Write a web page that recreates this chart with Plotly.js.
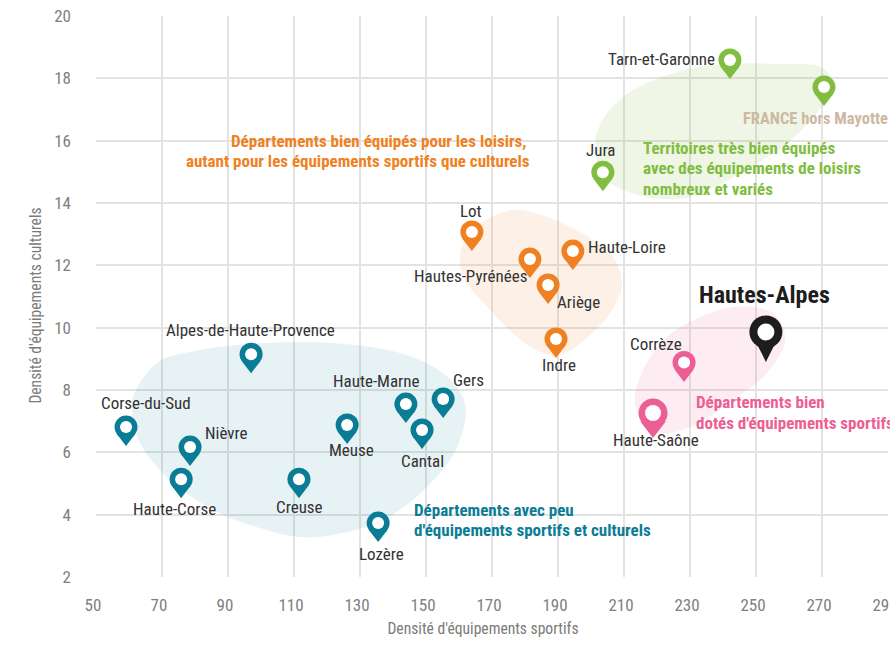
<!DOCTYPE html>
<html><head><meta charset="utf-8">
<script src="https://cdn.plot.ly/plotly-3.0.1.min.js"></script>
<style>
html,body{margin:0;padding:0;background:#fff}
#chart{width:890px;height:652px}
#chart text{font-stretch:condensed !important}
</style></head><body><div id="chart"></div>
<script>
const FONT = '"Liberation Sans Narrow","Roboto Condensed",Roboto,sans-serif';
const xTicks = [50,70,90,110,130,150,170,190,210,230,250,270,290];
const yTicks = [2,4,6,8,10,12,14,16,18,20];

const tealNames = ['Alpes-de-Haute-Provence','Corse-du-Sud','Nièvre','Haute-Corse','Creuse','Meuse','Haute-Marne','Gers','Cantal','Lozère'];
const tealX = [97,59.1,78.5,75.8,111.5,126.1,143.9,155.2,148.8,135.5];
const tealY = [8.54,6.2,5.56,4.53,4.53,6.27,6.94,7.1,6.11,3.12];
const orangeNames = ['Lot','Haute-Loire','Hautes-Pyrénées','Ariège','Indre'];
const orangeX = [163.9,194.5,181.5,187,189.4];
const orangeY = [12.46,11.85,11.59,10.76,9.03];
const greenNames = ['Tarn-et-Garonne','FRANCE hors Mayotte','Jura'];
const greenX = [242.1,270.6,203.6];
const greenY = [17.98,17.11,14.38];
const pinkNames = ['Corrèze','Haute-Saône'];
const pinkX = [228.2,218.8];
const pinkY = [8.26,6.46];
const blackNames = ['Hautes-Alpes'];
const blackX = [253];
const blackY = [8.9];

const tealBlobX = [61.2,68.5,81.5,101.8,121.8,142.1,155.2,161.8,159.4,150.3,137,121.8,111.8,99.7,85.5,71.5,63.3,61.2,61.2];
const tealBlobY = [7.77,8.87,9.28,9.51,9.51,9.19,8.54,7.58,6.17,4.89,3.83,3.35,3.28,3.57,4.15,5.21,6.3,7.13,7.77];
const orangeBlobX = [175.5,163.3,160.3,161.8,169.4,177,184.5,190.6,199.7,206.4,209.4,207.3,199.7,190.6,183,175.5];
const orangeBlobY = [13.77,13.07,12.27,11.53,10.57,9.76,9.22,9.12,9.76,10.57,11.37,12.17,12.88,13.39,13.68,13.77];
const greenBlobX = [255.2,270.3,273,267.9,259.4,245.2,230,217,204.8,201.2,202.7,209.7,224.8,240.6,255.2];
const greenBlobY = [18.46,18.33,17.78,16.82,15.92,14.96,14.19,14.19,14.74,15.7,16.5,17.4,18.17,18.46,18.46];
const pinkBlobX = [249.1,255.8,258.8,253.3,243,230,220.9,214.8,213.3,215.8,223,233,243,249.1];
const pinkBlobY = [10.66,10.41,9.6,8.54,7.68,6.81,6.62,7.13,7.77,8.64,9.7,10.34,10.66,10.66];

const TEAL='#0b7c95', ORANGE='#f08122', GREEN='#80bd41', PINK='#ec5f94', BLACK='#1d1d1b', TAN='#cdb9a2';

// label offsets from the pin tip, in px [dx, dy-up]
const labelOffsets = {
 'Tarn-et-Garonne':[-68,20],'FRANCE hors Mayotte':[-8,-12],'Jura':[-2,41],'Lot':[-1,40],'Haute-Loire':[54,23],
 'Hautes-Pyrénées':[-59,2],'Ariège':[30,2],'Indre':[3,-7],'Corrèze':[-28,38],'Haute-Saône':[3,-2],'Hautes-Alpes':[-1,67],
 'Alpes-de-Haute-Provence':[-1,43],'Corse-du-Sud':[20,43],'Nièvre':[36,33],'Haute-Corse':[-7,-11],'Creuse':[1,-9],
 'Meuse':[4,-6],'Haute-Marne':[-29,42],'Gers':[25,38],'Cantal':[0,-12],'Lozère':[3,-12]
};

function blob(x,y,color){
  return {x,y,type:'scatter',mode:'lines',fill:'toself',fillcolor:color,hoverinfo:'skip',showlegend:false,
          line:{shape:'spline',smoothing:1,width:0,color:'rgba(0,0,0,0)'}};
}
function mk(x,y,names,symbol,size,c,stand){
  return {x,y,type:'scatter',mode:'markers',showlegend:false,text:names,hoverinfo:'text',
     marker:{symbol,size,color:c,opacity:1,angle:180,standoff:stand,line:{width:0}}};
}
// one pin = a pointed body + a round head + a white hole, all anchored on the point itself
function pins(names,x,y,color,head,tip,hole){
  const h=tip-(head/2)*(head/2)/tip;
  const tri=h/1.5*2;
  return [mk(x,y,names,'triangle-up',tri,color,tri/2),
          mk(x,y,names,'circle',head,color,tip),
          mk(x,y,names,'circle',hole,'#ffffff',tip)];
}
const traces=[
  blob(tealBlobX,tealBlobY,'rgba(11,124,149,0.10)'),
  blob(orangeBlobX,orangeBlobY,'rgba(240,129,34,0.11)'),
  blob(greenBlobX,greenBlobY,'rgba(128,189,65,0.13)'),
  blob(pinkBlobX,pinkBlobY,'rgba(236,95,148,0.12)'),
  ...pins(tealNames,tealX,tealY,TEAL,23,19,12),
  ...pins(orangeNames,orangeX,orangeY,ORANGE,23,19,12),
  ...pins(greenNames,greenX,greenY,GREEN,23,19,12),
  ...pins([pinkNames[0]],[pinkX[0]],[pinkY[0]],PINK,23,19.5,12),
  ...pins([pinkNames[1]],[pinkX[1]],[pinkY[1]],PINK,29,25,16),
  mk(blackX,blackY,blackNames,'diamond-tall',32.8,BLACK,23),
  mk(blackX,blackY,blackNames,'circle',33,BLACK,30),
  mk(blackX,blackY,blackNames,'circle',17,'#ffffff',30)
];
const anns=[];
function labels(names,x,y){
  names.forEach((n,i)=>{
    const o=labelOffsets[n];
    const isFr=n.startsWith('FRANCE'), isHA=n==='Hautes-Alpes';
    anns.push({x:x[i],y:y[i],xref:'x',yref:'y',text:n,showarrow:false,xanchor:'center',yanchor:'middle',
      xshift:o[0],yshift:o[1],
      font:{family:FONT,size:isHA?24:(isFr?16.5:17),weight:(isHA||isFr)?700:400,color:isHA?BLACK:(isFr?TAN:'#333333')}});
  });
}
labels(tealNames,tealX,tealY);labels(orangeNames,orangeX,orangeY);labels(greenNames,greenX,greenY);
labels(pinkNames,pinkX,pinkY);labels(blackNames,blackX,blackY);

const notes=[
 {t:['Départements avec peu',"d'équipements sportifs et culturels"],x:146.4,y:3.83,c:TEAL,a:'left',dx:[-2,-2]},
 {t:['Départements bien équipés pour les loisirs,','autant pour les équipements sportifs que culturels'],x:181.5,y:15.67,c:ORANGE,a:'right',dx:[-2,2]},
 {t:['Territoires très bien équipés','avec des équipements de loisirs','nombreux et variés'],x:215.8,y:15.12,c:GREEN,a:'left',dx:[-2,-2,-2]},
 {t:['Départements bien',"dotés d'équipements sportifs"],x:231.8,y:7.28,c:PINK,a:'left',dx:[-2,-2]}
];
notes.forEach(n=>n.t.forEach((line,i)=>anns.push({x:n.x,y:n.y,xref:'x',yref:'y',text:line,showarrow:false,xanchor:n.a,yanchor:'middle',
  xshift:n.dx[i],yshift:((n.t.length-1)/2-i)*20.5,
  font:{family:FONT,size:17,weight:700,color:n.c}})));

const layout={
  width:890,height:652,margin:{l:96,r:2,t:16,b:75,pad:0},paper_bgcolor:'#fff',plot_bgcolor:'#fff',showlegend:false,
  font:{family:FONT,color:'#808080',size:17},
  xaxis:{range:[50,290],tickvals:xTicks,ticktext:xTicks.map(String),showgrid:true,gridcolor:'#e3e3e3',gridwidth:1.5,zeroline:false,
    showline:false,ticks:'',ticklabelshift:-3,ticklabelstandoff:16,tickangle:0,ticklabeloverflow:'allow',
    tickfont:{family:FONT,size:17,color:'#808080'},
    title:{text:"Densité d'équipements sportifs",standoff:9,font:{family:FONT,size:15.6,color:'#7a7a7a'}}},
  yaxis:{range:[2,20],tickvals:yTicks,ticktext:yTicks.map(String),showgrid:true,gridcolor:'#e3e3e3',gridwidth:1.5,zeroline:false,
    showline:false,ticks:'',ticklabelstandoff:24,
    tickfont:{family:FONT,size:17,color:'#808080'},
    title:{text:"Densité d'équipements culturels",standoff:8,font:{family:FONT,size:15.6,color:'#7a7a7a'}}},
  annotations:anns
};
Plotly.newPlot('chart',traces,layout,{displayModeBar:false,responsive:false}).then(()=>{
  const xt=document.querySelector('.xtitle'); if(xt) xt.setAttribute('x',483);
  const yt=document.querySelector('.ytitle');
  if(yt){const x=yt.getAttribute('x');yt.setAttribute('y',305.5);yt.setAttribute('transform','rotate(-90,'+x+',305.5)');}
});
</script></body></html>
